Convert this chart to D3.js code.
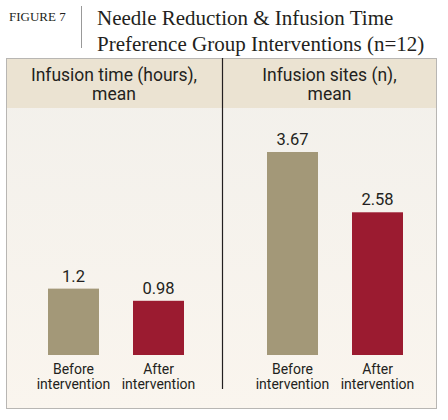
<!DOCTYPE html>
<html lang="en">
<head>
    <script src="https://d3js.org/d3.v7.min.js"></script>
    <style>
        body { margin: 0; background: #fff; }
        svg { display: block; }
    </style>
</head>
<body>
    <svg></svg>
    <script>
        // chart values
        const panelTitles = [['Infusion time (hours),', 'mean'], ['Infusion sites (n),', 'mean']]
        const categories = ['Before intervention', 'After intervention']
        const infusionTime = [1.2, 0.98]
        const infusionSites = [3.67, 2.58]
        const valueLabels = [['1.2', '0.98'], ['3.67', '2.58']]
        const barColors = ['#a39878', '#9b1b30']

        const W = 448, H = 420
        const sans = 'Roboto, "Liberation Sans", sans-serif'
        const serif = '"Liberation Serif", "DejaVu Serif", serif'
        const ink = '#231f20'

        const svg = d3.select('svg')
            .attr('width', W)
            .attr('height', H)

        // title block
        svg.append('text')
            .attr('x', 9).attr('y', 20.5)
            .attr('font-family', serif)
            .attr('font-size', 13)
            .attr('fill', ink)
            .text('FIGURE 7')
        svg.append('line')
            .attr('x1', 81.5).attr('x2', 81.5)
            .attr('y1', 6).attr('y2', 48)
            .attr('stroke', '#999').attr('stroke-width', 1)
        const titleLines = ['Needle Reduction & Infusion Time', 'Preference Group Interventions (n=12)']
        svg.selectAll('.title')
            .data(titleLines)
            .enter()
            .append('text')
            .attr('class', 'title')
            .attr('x', 97)
            .attr('y', (d, i) => 25 + i * 26)
            .attr('font-family', serif)
            .attr('font-size', 21)
            .attr('fill', ink)
            .text(d => d)

        // box background
        const box = { x: 6, y: 58, w: 431, h: 351 }
        const grad = svg.append('defs').append('linearGradient')
            .attr('id', 'bg').attr('x1', 0).attr('x2', 0).attr('y1', 0).attr('y2', 1)
        grad.append('stop').attr('offset', '0%').attr('stop-color', '#f2f0eb')
        grad.append('stop').attr('offset', '100%').attr('stop-color', '#faf5ee')

        svg.append('rect')
            .attr('x', box.x).attr('y', box.y)
            .attr('width', box.w).attr('height', box.h)
            .attr('fill', 'url(#bg)')
        svg.append('rect')
            .attr('x', box.x).attr('y', box.y)
            .attr('width', box.w).attr('height', 50)
            .attr('fill', '#ebe3d2')
        svg.append('rect')
            .attr('x', box.x + 0.5).attr('y', box.y + 0.5)
            .attr('width', box.w - 1).attr('height', box.h - 1)
            .attr('fill', 'none')
            .attr('stroke', '#b8b6b3').attr('stroke-width', 1)

        // divider
        svg.append('line')
            .attr('x1', 222.5).attr('x2', 222.5)
            .attr('y1', box.y).attr('y2', 389)
            .attr('stroke', ink).attr('stroke-width', 1.2)

        // scales (shared y)
        const y = d3.scaleLinear()
            .domain([0, d3.max(infusionSites)])
            .range([355, 152])

        const panels = [
            { x0: 6, x1: 222, barStart: 48, values: infusionTime },
            { x0: 222, x1: 437, barStart: 267, values: infusionSites }
        ]

        panels.forEach((p, pi) => {
            const cx = (p.x0 + p.x1) / 2
            const x = d3.scaleBand()
                .domain(categories)
                .range([p.barStart, p.barStart + 136])
                .paddingInner(0.4)
                .paddingOuter(0)

            // header, two lines
            svg.selectAll('.head' + pi)
                .data(panelTitles[pi])
                .enter()
                .append('text')
                .attr('x', cx)
                .attr('y', (d, i) => 81 + i * 19)
                .attr('text-anchor', 'middle')
                .attr('font-family', sans)
                .attr('font-size', 17.5)
                .attr('fill', ink)
                .text(d => d)

            const g = svg.append('g')
            g.selectAll('rect')
                .data(p.values)
                .enter()
                .append('rect')
                .attr('x', (d, i) => x(categories[i]))
                .attr('width', x.bandwidth())
                .attr('y', d => y(d))
                .attr('height', d => y(0) - y(d))
                .attr('fill', (d, i) => barColors[i])

            g.selectAll('.val')
                .data(p.values)
                .enter()
                .append('text')
                .attr('x', (d, i) => x(categories[i]) + x.bandwidth() / 2)
                .attr('y', d => y(d) - 7)
                .attr('text-anchor', 'middle')
                .attr('font-family', sans)
                .attr('font-size', 16.5)
                .attr('fill', ink)
                .text((d, i) => valueLabels[pi][i])

            categories.forEach((c, i) => {
                g.append('text')
                    .attr('x', x(c) + x.bandwidth() / 2)
                    .attr('y', 374)
                    .attr('text-anchor', 'middle')
                    .attr('font-family', sans)
                    .attr('font-size', 14)
                    .attr('fill', ink)
                    .selectAll('tspan')
                    .data(c.split(' '))
                    .enter()
                    .append('tspan')
                    .attr('x', x(c) + x.bandwidth() / 2)
                    .attr('dy', (d, k) => k === 0 ? 0 : 15)
                    .text(d => d)
            })
        })
    </script>
</body>
</html>
